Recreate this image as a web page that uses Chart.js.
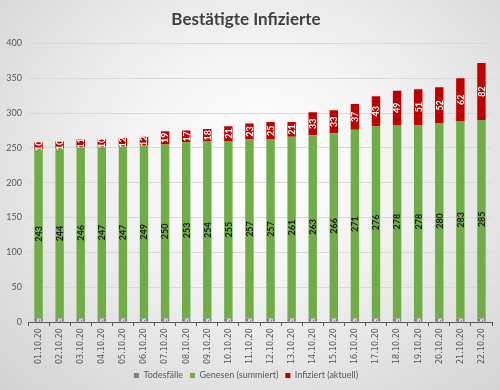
<!DOCTYPE html>
<html>
<head>
<meta charset="utf-8">
<script src="https://cdn.jsdelivr.net/npm/chart.js@4/dist/chart.umd.min.js"></script>
<style>
  html, body { margin: 0; padding: 0; }
  body {
    width: 500px; height: 390px; overflow: hidden;
    background: radial-gradient(ellipse at 52% 42%, #ffffff 0%, #f4f4f4 35%, #d2d2d2 100%);
  }
  canvas { display: block; }
</style>
</head>
<body>
<canvas id="chart" width="500" height="390"></canvas>
<script>
// Tage im Oktober
const dates = [
  "01.10.20", "02.10.20", "03.10.20", "04.10.20", "05.10.20", "06.10.20",
  "07.10.20", "08.10.20", "09.10.20", "10.10.20", "11.10.20", "12.10.20",
  "13.10.20", "14.10.20", "15.10.20", "16.10.20", "17.10.20", "18.10.20",
  "19.10.20", "20.10.20", "21.10.20", "22.10.20"
];
const todesfaelle = [5, 5, 5, 5, 5, 5, 5, 5, 5, 5, 5, 5, 5, 5, 5, 5, 5, 5, 5, 5, 5, 5];
const genesen = [243, 244, 246, 247, 247, 249, 250, 253, 254, 255, 257, 257, 261, 263, 266, 271, 276, 278, 278, 280, 283, 285];
const infiziert = [10, 10, 11, 10, 12, 12, 19, 17, 18, 21, 23, 25, 21, 33, 33, 37, 43, 49, 51, 52, 62, 82];

const FONT = "Lato, 'Open Sans', sans-serif";
const NARROW = "'Liberation Sans Narrow', 'DejaVu Sans Condensed', sans-serif";

// Zahlen senkrecht in die Balken schreiben
const barLabels = {
  id: "barLabels",
  afterDatasetsDraw(chart) {
    const ctx = chart.ctx;
    chart.data.datasets.forEach((ds, i) => {
      const meta = chart.getDatasetMeta(i);
      meta.data.forEach((bar, j) => {
        const mid = (bar.y + bar.base) / 2;
        ctx.save();
        ctx.translate(bar.x, mid);
        ctx.rotate(-Math.PI / 2);
        ctx.textAlign = "center";
        ctx.textBaseline = "middle";
        ctx.fillStyle = ds.labelColor;
        ctx.font = ds.labelFont;
        ctx.fillText(String(ds.data[j]), 0, 0.5);
        ctx.restore();
      });
    });
  }
};

new Chart(document.getElementById("chart"), {
  type: "bar",
  data: {
    labels: dates,
    datasets: [
      {
        label: "Todesfälle",
        data: todesfaelle,
        backgroundColor: "#7f7f7f",
        labelColor: "#ffffff",
        labelFont: "bold 6px " + FONT
      },
      {
        label: "Genesen (summiert)",
        data: genesen,
        backgroundColor: "#70ad47",
        labelColor: "#1a1a1a",
        labelFont: "bold 9px " + FONT
      },
      {
        label: "Infiziert (aktuell)",
        data: infiziert,
        backgroundColor: "#c00000",
        labelColor: "#ffffff",
        labelFont: "bold 9px " + FONT
      }
    ]
  },
  options: {
    responsive: false,
    animation: false,
    devicePixelRatio: 1,
    barPercentage: 0.4,
    categoryPercentage: 1,
    layout: { padding: { left: 0, right: 8, top: 0, bottom: 0 } },
    plugins: {
      title: {
        display: true,
        text: "Bestätigte Infizierte",
        color: "#404040",
        font: { family: FONT, size: 17, weight: "bold" },
        padding: { top: 9, bottom: 14 }
      },
      legend: {
        position: "bottom",
        labels: {
          color: "#595959",
          font: { family: FONT, size: 9 },
          boxWidth: 5,
          boxHeight: 5,
          padding: 7
        }
      },
      tooltip: { enabled: false }
    },
    scales: {
      x: {
        stacked: true,
        grid: {
          offset: true,
          drawOnChartArea: false,
          drawTicks: true,
          tickLength: 4,
          color: "#595959"
        },
        border: { color: "#595959" },
        ticks: {
          color: "#595959",
          font: { family: NARROW, size: 9 },
          minRotation: 90,
          maxRotation: 90,
          padding: 2
        },
        afterFit(scale) { scale.height = 42; }
      },
      y: {
        stacked: true,
        min: 0,
        max: 400,
        ticks: {
          stepSize: 50,
          color: "#595959",
          font: { family: FONT, size: 9 },
          padding: 6
        },
        grid: { color: "#d9d9d9", drawTicks: false },
        border: { display: false },
        afterFit(scale) { scale.width = 28; }
      }
    }
  },
  plugins: [barLabels]
});
</script>
</body>
</html>
